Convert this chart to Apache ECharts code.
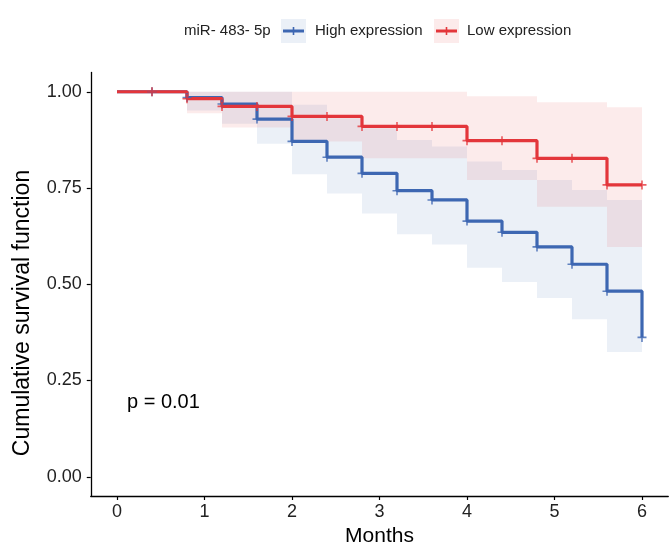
<!DOCTYPE html>
<html>
<head>
<meta charset="utf-8">
<script src="https://cdn.jsdelivr.net/npm/echarts@6/dist/echarts.min.js"></script>
<style>
html,body{margin:0;padding:0;background:#fff;}
#c{width:669px;height:555px;}
</style>
</head>
<body>
<div id="c"></div>
<script>
// ---- data ----
const xTicks = [0, 1, 2, 3, 4, 5, 6];
const yTicks = [0, 0.25, 0.5, 0.75, 1];

// High expression (blue): step times and survival after each step
const highTimes = [0, 0.8, 1.2, 1.6, 2.0, 2.4, 2.8, 3.2, 3.6, 4.0, 4.4, 4.8, 5.2, 5.6, 6.0];
const highSurv  = [1, 0.985, 0.968, 0.929, 0.871, 0.830, 0.788, 0.743, 0.719, 0.664, 0.635, 0.597, 0.552, 0.482, 0.362];
// confidence band per interval (start times), ends at next start / 6.0
const highBandStart = [0.8, 1.2, 1.6, 2.0, 2.4, 2.8, 3.2, 3.6, 4.0, 4.4, 4.8, 5.2, 5.6];
const highLower = [0.951, 0.917, 0.865, 0.786, 0.736, 0.684, 0.630, 0.603, 0.543, 0.506, 0.464, 0.409, 0.324];
const highUpper = [1, 1, 1, 0.966, 0.931, 0.905, 0.875, 0.858, 0.819, 0.797, 0.771, 0.745, 0.719];

// Low expression (red)
const lowTimes = [0, 0.8, 1.2, 2.0, 2.8, 4.0, 4.8, 5.6, 6.0];
const lowSurv  = [1, 0.982, 0.962, 0.936, 0.910, 0.873, 0.827, 0.758, 0.758];
const lowBandStart = [0.8, 1.2, 2.0, 2.8, 4.0, 4.8, 5.6];
const lowLower = [0.944, 0.907, 0.871, 0.827, 0.771, 0.701, 0.597];
const lowUpper = [1, 1, 1, 1, 0.988, 0.973, 0.960];

const bandEnd = 6.0;
// censoring times (same for both groups)
const censorTimes = [0.4, 0.8, 1.2, 1.6, 2.0, 2.4, 2.8, 3.2, 3.6, 4.0, 4.4, 4.8, 5.2, 5.6, 6.0];

const pText = 'p = 0.01';
const legendTitle = 'miR- 483- 5p';
const groupNames = ['High expression', 'Low expression'];

// ---- styles ----
const BLUE = '#3D67B2';
const RED = '#E3363B';
const BLUE_FILL = 'rgba(61,103,178,0.10)';
const RED_FILL = 'rgba(227,54,59,0.10)';
const FONT = '"Liberation Sans", Arial, sans-serif';

function pairs(t, s) { return t.map((v, i) => [v, s[i]]); }
function bands(start, lo, hi) {
  return start.map((t, i) => [t, i + 1 < start.length ? start[i + 1] : bandEnd, lo[i], hi[i]]);
}
function survAt(times, surv, t) {
  let v = surv[0];
  for (let i = 0; i < times.length; i++) { if (times[i] <= t + 1e-9) v = surv[i]; }
  return v;
}
function censor(times, surv) { return censorTimes.map(t => [t, survAt(times, surv, t)]); }

function bandSeries(data, fill) {
  return {
    type: 'custom', silent: true, z: 1,
    renderItem: function (params, api) {
      const p0 = api.coord([api.value(0), api.value(3)]);
      const p1 = api.coord([api.value(1), api.value(2)]);
      return { type: 'rect', shape: { x: p0[0], y: p0[1], width: p1[0] - p0[0], height: p1[1] - p0[1] }, style: { fill: fill } };
    },
    encode: { x: [0, 1], y: [2, 3] },
    data: data
  };
}
const PLUS = 'path://M0,5L10,5M5,0L5,10';

const chart = echarts.init(document.getElementById('c'), null, { renderer: 'canvas' });
const option = {
  animation: false,
  textStyle: { fontFamily: FONT },
  grid: { left: 90.75, right: 0.75, top: 72.5, bottom: 59 },
  xAxis: {
    type: 'value', min: -0.3, max: 6.3,
    splitLine: { show: false },
    axisLine: { onZero: false, lineStyle: { color: '#000', width: 1.3 } },
    axisTick: { customValues: xTicks, length: 4, lineStyle: { color: '#000', width: 1.2 } },
    axisLabel: { customValues: xTicks, fontSize: 18, color: '#222', margin: 7, fontFamily: FONT },
    name: 'Months', nameLocation: 'middle', nameGap: 27,
    nameTextStyle: { fontSize: 21, color: '#000', fontFamily: FONT }
  },
  yAxis: {
    type: 'value', min: -0.05, max: 1.05,
    splitLine: { show: false },
    axisLine: { onZero: false, lineStyle: { color: '#000', width: 1.3 } },
    axisTick: { customValues: yTicks, length: 4, lineStyle: { color: '#000', width: 1.2 } },
    axisLabel: { customValues: yTicks, fontSize: 18, color: '#222', margin: 9, fontFamily: FONT,
      formatter: v => Number(v).toFixed(2) }
  },
  series: [
    bandSeries(bands(highBandStart, highLower, highUpper), BLUE_FILL),
    bandSeries(bands(lowBandStart, lowLower, lowUpper), RED_FILL),
    { name: groupNames[0], type: 'line', step: 'end', data: pairs(highTimes, highSurv), symbol: 'none', silent: true, z: 3,
      lineStyle: { color: BLUE, width: 3.2 } },
    { name: groupNames[1], type: 'line', step: 'end', data: pairs(lowTimes, lowSurv), symbol: 'none', silent: true, z: 3,
      lineStyle: { color: RED, width: 3.2 } },
    { type: 'scatter', data: censor(highTimes, highSurv), symbol: PLUS, symbolSize: 9, silent: true, z: 4,
      itemStyle: { color: 'none', borderColor: BLUE, borderWidth: 1.6 } },
    { type: 'scatter', data: censor(lowTimes, lowSurv), symbol: PLUS, symbolSize: 9, silent: true, z: 4,
      itemStyle: { color: 'none', borderColor: RED, borderWidth: 1.6 } }
  ],
  graphic: [
    { type: 'text', x: 23, y: 313, rotation: Math.PI / 2,
      style: { text: 'Cumulative survival function', fill: '#000', font: '23px ' + FONT, align: 'center', verticalAlign: 'middle' } },
    { type: 'text', x: 127, y: 402,
      style: { text: pText, fill: '#000', font: '20px ' + FONT, align: 'left', verticalAlign: 'middle' } },
    { type: 'text', x: 184, y: 31,
      style: { text: legendTitle, fill: '#222', font: '15px ' + FONT, align: 'left', verticalAlign: 'middle' } },
    { type: 'rect', shape: { x: 281, y: 19, width: 25, height: 24 }, style: { fill: BLUE_FILL } },
    { type: 'line', shape: { x1: 283, y1: 31, x2: 304, y2: 31 }, style: { stroke: BLUE, lineWidth: 3 } },
    { type: 'line', shape: { x1: 293.5, y1: 27, x2: 293.5, y2: 35 }, style: { stroke: BLUE, lineWidth: 1.6 } },
    { type: 'text', x: 315, y: 31,
      style: { text: groupNames[0], fill: '#222', font: '15px ' + FONT, align: 'left', verticalAlign: 'middle' } },
    { type: 'rect', shape: { x: 434, y: 19, width: 25, height: 24 }, style: { fill: RED_FILL } },
    { type: 'line', shape: { x1: 436, y1: 31, x2: 457, y2: 31 }, style: { stroke: RED, lineWidth: 3 } },
    { type: 'line', shape: { x1: 446.5, y1: 27, x2: 446.5, y2: 35 }, style: { stroke: RED, lineWidth: 1.6 } },
    { type: 'text', x: 467, y: 31,
      style: { text: groupNames[1], fill: '#222', font: '15px ' + FONT, align: 'left', verticalAlign: 'middle' } }
  ]
};
chart.setOption(option);
</script>
</body>
</html>
